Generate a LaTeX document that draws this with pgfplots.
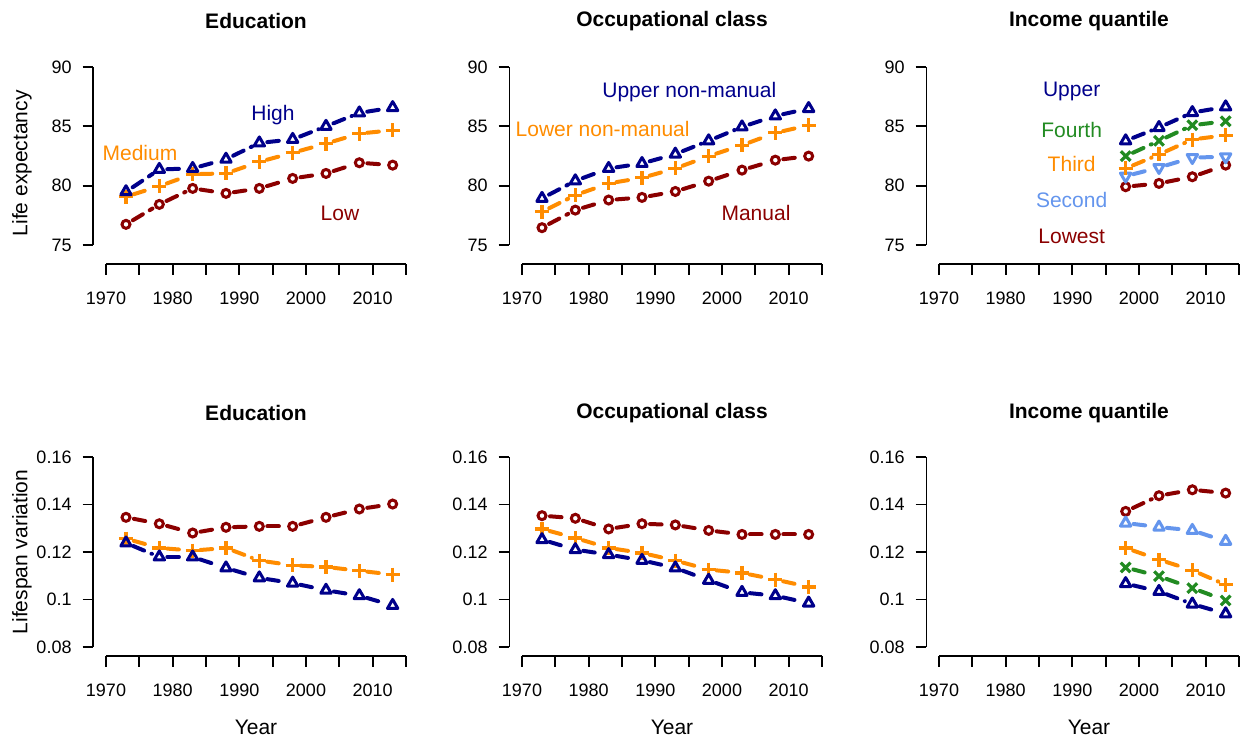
\documentclass[border=0pt]{standalone}
\usepackage{fontspec}
\setmainfont{Liberation Sans}
\usepackage{pgfplots}
\pgfplotsset{compat=1.18}
\definecolor{cNavy}{HTML}{00008B}
\definecolor{cOrange}{HTML}{FF8C00}
\definecolor{cRed}{HTML}{8B0000}
\definecolor{cGreen}{HTML}{228B22}
\definecolor{cLight}{HTML}{6495ED}
\pgfplotsset{
 segbase/.style={line width=2pt, line cap=round, dash pattern=on 5.8pt off 4pt, shorten >=4pt, shorten <=4pt},
 lNavy/.style={cNavy, segbase},
 lOrange/.style={cOrange, segbase},
 lRed/.style={cRed, segbase},
 lGreen/.style={cGreen, segbase},
 lLight/.style={cLight, segbase},
 mTri/.style={only marks, mark=triangle, mark size=3pt, mark options={solid, line width=1.5pt, line join=round}},
 mDown/.style={only marks, mark=triangle, mark size=3pt, mark options={solid, line width=1.5pt, line join=round, rotate=180}},
 mCirc/.style={only marks, mark=o, mark size=2pt, mark options={solid, line width=1.5pt}},
 mPlus/.style={only marks, mark=+, mark size=3.5pt, mark options={solid, line width=1.6pt}},
 mX/.style={only marks, mark=x, mark size=3.4pt, mark options={solid, line width=1.6pt}},
 panel/.style={
  scale only axis, width=150pt, anchor=south west,
  axis lines=left, axis line style={-, line width=0.9pt, black},
  tick align=outside, major tick length=5.4pt, tick style={line width=0.9pt, black},
  xmin=1970, xmax=2015, xtick={1970,1975,...,2015}, xticklabels={1970,,1980,,1990,,2000,,2010,},
  ticklabel style={font=\fontsize{9}{10}\selectfont},
  xticklabel style={yshift=-5pt},
  yticklabel style={xshift=-2pt},
  /pgf/number format/assume math mode=true,
  clip=false,
  axis y line shift=6.3pt,
  title style={font=\bfseries\fontsize{10.5}{12}\selectfont, anchor=center},
  label style={font=\fontsize{10.5}{12}\selectfont},
 },
 top/.style={panel, height=89pt, ymin=75, ymax=90, ytick={75,80,85,90}, yticklabels={75,80,85,90}, axis x line shift=9.6pt, title style={at={(0.5,1.191)}}},
 bot/.style={panel, height=95pt, ymin=0.08, ymax=0.16, ytick={0.08,0.1,0.12,0.14,0.16}, yticklabels={0.08,0.1,0.12,0.14,0.16}, axis x line shift=4.35pt, title style={at={(0.5,1.168)}},
   xlabel={Year}, xlabel style={at={(axis description cs:0.5,-0.421)}, anchor=center}},
}
\makeatletter
\newcommand\ser[3]{%
  \def\ser@style{#1}%
  \ser@seg#3\relax
  \addplot[#2] coordinates {#3};%
}
\def\ser@seg(#1,#2)(#3,#4){%
  \edef\ser@tmp{\noexpand\addplot[\ser@style] coordinates {(#1,#2) (#3,#4)};}\ser@tmp
  \@ifnextchar\relax{\ser@end}{\ser@seg(#3,#4)}}
\def\ser@end\relax{}
\makeatother
\newcommand\lab[4]{\node[text=#1, font=\fontsize{10.5}{12}\selectfont, anchor=center] at (axis cs:#2,#3) {#4};}
\begin{document}
\begin{tikzpicture}
\path[use as bounding box] (0,0) rectangle (622pt,370pt);
% Panel 1
\begin{axis}[top, at={(53pt,247.5pt)}, title={Education}, ylabel={Life expectancy}, ylabel style={at={(axis description cs:-0.28,0.459)}, anchor=center}]
\ser{lRed}{mCirc, cRed}{(1973,76.74)(1978,78.42)(1983,79.77)(1988,79.35)(1993,79.77)(1998,80.61)(2003,81.03)(2008,81.93)(2013,81.73)}
\ser{lOrange}{mPlus, cOrange}{(1973,79.07)(1978,79.96)(1983,80.97)(1988,81.03)(1993,82.01)(1998,82.77)(2003,83.55)(2008,84.39)(2013,84.67)}
\ser{lNavy}{mTri, cNavy}{(1973,79.49)(1978,81.37)(1983,81.45)(1988,82.23)(1993,83.6)(1998,83.9)(2003,85.0)(2008,86.13)(2013,86.58)}
\lab{cNavy}{1995.05}{85.95}{High}
\lab{cOrange}{1975.1}{82.78}{Medium}
\lab{cRed}{2005.1}{77.7}{Low}
\end{axis}
% Panel 2
\begin{axis}[top, at={(261pt,247.5pt)}, title={Occupational class}]
\ser{lRed}{mCirc, cRed}{(1973,76.46)(1978,77.94)(1983,78.79)(1988,79.01)(1993,79.51)(1998,80.38)(2003,81.31)(2008,82.15)(2013,82.49)}
\ser{lOrange}{mPlus, cOrange}{(1973,77.8)(1978,79.2)(1983,80.19)(1988,80.66)(1993,81.45)(1998,82.49)(2003,83.41)(2008,84.45)(2013,85.09)}
\ser{lNavy}{mTri, cNavy}{(1973,78.93)(1978,80.41)(1983,81.45)(1988,81.87)(1993,82.66)(1998,83.78)(2003,84.95)(2008,85.88)(2013,86.5)}
\lab{cNavy}{1995.1}{87.92}{Upper non-manual}
\lab{cOrange}{1982.1}{84.75}{Lower non-manual}
\lab{cRed}{2005.1}{77.67}{Manual}
\end{axis}
% Panel 3
\begin{axis}[top, at={(469.5pt,247.5pt)}, title={Income quantile}]
\ser{lRed}{mCirc, cRed}{(1998,79.91)(2003,80.19)(2008,80.75)(2013,81.73)}
\ser{lLight}{mDown, cLight}{(1998,80.8)(2003,81.53)(2008,82.37)(2013,82.43)}
\ser{lOrange}{mPlus, cOrange}{(1998,81.45)(2003,82.63)(2008,83.89)(2013,84.25)}
\ser{lGreen}{mX, cGreen}{(1998,82.49)(2003,83.78)(2008,85.09)(2013,85.43)}
\ser{lNavy}{mTri, cNavy}{(1998,83.78)(2003,84.9)(2008,86.16)(2013,86.64)}
\lab{cNavy}{1989.9}{87.95}{Upper}
\lab{cGreen}{1989.9}{84.68}{Fourth}
\lab{cOrange}{1989.9}{81.8}{Third}
\lab{cLight}{1989.9}{78.76}{Second}
\lab{cRed}{1989.9}{75.76}{Lowest}
\end{axis}
% Panel 4
\begin{axis}[bot, at={(53pt,46.5pt)}, title={Education}, ylabel={Lifespan variation}, ylabel style={at={(axis description cs:-0.28,0.50)}, anchor=center}]
\ser{lRed}{mCirc, cRed}{(1973,0.1346)(1978,0.1319)(1983,0.1280)(1988,0.1304)(1993,0.1308)(1998,0.1308)(2003,0.1346)(2008,0.1381)(2013,0.1402)}
\ser{lOrange}{mPlus, cOrange}{(1973,0.1256)(1978,0.1217)(1983,0.1206)(1988,0.1217)(1993,0.1164)(1998,0.1144)(2003,0.1137)(2008,0.1121)(2013,0.1105)}
\ser{lNavy}{mTri, cNavy}{(1973,0.1238)(1978,0.1179)(1983,0.1179)(1988,0.1133)(1993,0.1091)(1998,0.1069)(2003,0.1039)(2008,0.1016)(2013,0.0975)}
\end{axis}
% Panel 5
\begin{axis}[bot, at={(261pt,46.5pt)}, title={Occupational class}]
\ser{lRed}{mCirc, cRed}{(1973,0.1353)(1978,0.1342)(1983,0.1297)(1988,0.1319)(1993,0.1314)(1998,0.1291)(2003,0.1274)(2008,0.1274)(2013,0.1274)}
\ser{lOrange}{mPlus, cOrange}{(1973,0.1297)(1978,0.1259)(1983,0.1217)(1988,0.1196)(1993,0.1164)(1998,0.1126)(2003,0.1112)(2008,0.1084)(2013,0.1053)}
\ser{lNavy}{mTri, cNavy}{(1973,0.1252)(1978,0.1210)(1983,0.1189)(1988,0.1165)(1993,0.1133)(1998,0.1081)(2003,0.1030)(2008,0.1016)(2013,0.0985)}
\end{axis}
% Panel 6
\begin{axis}[bot, at={(469.5pt,46.5pt)}, title={Income quantile}]
\ser{lRed}{mCirc, cRed}{(1998,0.1371)(2003,0.1437)(2008,0.1462)(2013,0.1448)}
\ser{lLight}{mTri, cLight}{(1998,0.1322)(2003,0.1305)(2008,0.1291)(2013,0.1245)}
\ser{lOrange}{mPlus, cOrange}{(1998,0.1217)(2003,0.1168)(2008,0.1123)(2013,0.1062)}
\ser{lGreen}{mX, cGreen}{(1998,0.1135)(2003,0.1098)(2008,0.1048)(2013,0.0996)}
\ser{lNavy}{mTri, cNavy}{(1998,0.1067)(2003,0.1034)(2008,0.0981)(2013,0.0940)}
\end{axis}
\end{tikzpicture}
\end{document}
